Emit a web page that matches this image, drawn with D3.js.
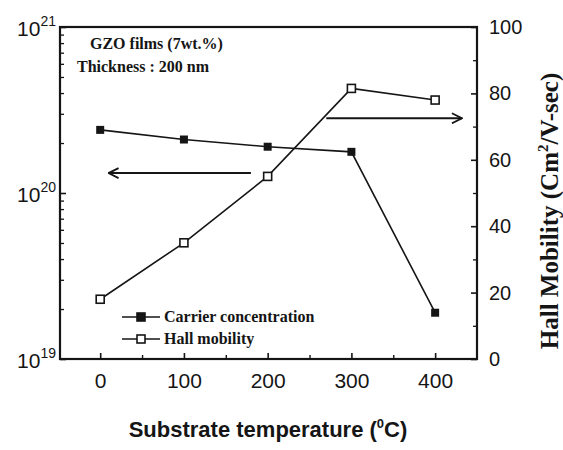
<!DOCTYPE html>
<html>
<head>
<meta charset="utf-8">
<script src="https://cdn.jsdelivr.net/npm/d3@7"></script>
<style>
  body { margin: 0; background: #fff; }
  svg { display: block; }
  .tick text { font-family: "Liberation Sans", Arial, sans-serif; }
</style>
</head>
<body>
<div id="chart"></div>
<script>
// data
const temps = [0, 100, 200, 300, 400];
const carrier = [2.4e20, 2.1e20, 1.9e20, 1.77e20, 1.9e19];
const mobility = [18, 35, 55, 81.5, 78];
const xTicks = [0, 100, 200, 300, 400];
const xMinor = [50, 150, 250, 350];
const leftTicks = [1e19, 1e20, 1e21];
const leftExp = ['19', '20', '21'];
const rightTicks = [0, 20, 40, 60, 80, 100];
const rightMinor = [10, 30, 50, 70, 90];

const W = 563, H = 450;
const margin = { top: 27, right: 86, bottom: 91, left: 60 };
const ink = '#151515';

const svg = d3.select('#chart').append('svg').attr('width', W).attr('height', H);

const x = d3.scaleLinear().domain([-48, 450]).range([margin.left, W - margin.right]);
const yL = d3.scaleLog().domain([1e19, 1e21]).range([H - margin.bottom, margin.top]);
const yR = d3.scaleLinear().domain([0, 100]).range([H - margin.bottom, margin.top]);

const x0 = margin.left, x1 = W - margin.right, y0 = H - margin.bottom, y1 = margin.top;

// frame
svg.append('rect')
  .attr('x', x0).attr('y', y1).attr('width', x1 - x0).attr('height', y0 - y1)
  .attr('fill', 'none').attr('stroke', ink).attr('stroke-width', 2.2);

// bottom axis
const gx = svg.append('g').attr('transform', `translate(0,${y0})`)
  .call(d3.axisBottom(x).tickValues(xTicks).tickSize(-6).tickPadding(14).tickFormat(d3.format('d')));
gx.select('.domain').remove();
gx.selectAll('.tick line').attr('stroke', ink).attr('stroke-width', 1.6);
gx.selectAll('.tick text').attr('font-size', 21).attr('fill', ink);
svg.append('g').attr('transform', `translate(0,${y0})`)
  .call(d3.axisBottom(x).tickValues(xMinor).tickSize(-4).tickFormat(''))
  .call(g => g.select('.domain').remove())
  .selectAll('.tick line').attr('stroke', ink).attr('stroke-width', 1.4);

// left log axis
const minorLog = yL.ticks().filter(v => leftTicks.indexOf(v) < 0);
const gl = svg.append('g').attr('transform', `translate(${x0},0)`)
  .call(d3.axisLeft(yL).tickValues(leftTicks).tickSize(-6).tickFormat(''));
gl.select('.domain').remove();
gl.selectAll('.tick line').attr('stroke', ink).attr('stroke-width', 1.6);
svg.append('g').attr('transform', `translate(${x0},0)`)
  .call(d3.axisLeft(yL).tickValues(minorLog).tickSize(-4).tickFormat(''))
  .call(g => g.select('.domain').remove())
  .selectAll('.tick line').attr('stroke', ink).attr('stroke-width', 1.3);

// left labels 10^n
const ll = svg.append('g');
leftTicks.forEach((v, i) => {
  const t = ll.append('text')
    .attr('x', x0 - 4).attr('y', yL(v) + 9)
    .attr('text-anchor', 'end')
    .attr('font-family', '"Liberation Sans", Arial, sans-serif')
    .attr('fill', ink);
  t.append('tspan').attr('font-size', 21).text('10');
  t.append('tspan').attr('font-size', 14).attr('dy', -10).text(leftExp[i]);
});

// right axis
const gr = svg.append('g').attr('transform', `translate(${x1},0)`)
  .call(d3.axisRight(yR).tickValues(rightTicks).tickSize(-6).tickPadding(12));
gr.select('.domain').remove();
gr.selectAll('.tick line').attr('stroke', ink).attr('stroke-width', 1.6);
gr.selectAll('.tick text').attr('font-size', 20).attr('fill', ink);
svg.append('g').attr('transform', `translate(${x1},0)`)
  .call(d3.axisRight(yR).tickValues(rightMinor).tickSize(-4).tickFormat(''))
  .call(g => g.select('.domain').remove())
  .selectAll('.tick line').attr('stroke', ink).attr('stroke-width', 1.3);

// series
const lineC = d3.line().x((d, i) => x(temps[i])).y(d => yL(d));
const lineM = d3.line().x((d, i) => x(temps[i])).y(d => yR(d));

svg.append('path').datum(carrier).attr('d', lineC)
  .attr('fill', 'none').attr('stroke', ink).attr('stroke-width', 1.6);
svg.append('path').datum(mobility).attr('d', lineM)
  .attr('fill', 'none').attr('stroke', ink).attr('stroke-width', 1.6);

const ms = 8;
svg.selectAll('.mc').data(carrier).enter().append('rect')
  .attr('x', (d, i) => x(temps[i]) - ms / 2).attr('y', d => yL(d) - ms / 2)
  .attr('width', ms).attr('height', ms).attr('fill', ink);
svg.selectAll('.mm').data(mobility).enter().append('rect')
  .attr('x', (d, i) => x(temps[i]) - ms / 2).attr('y', d => yR(d) - ms / 2)
  .attr('width', ms).attr('height', ms).attr('fill', '#fff')
  .attr('stroke', ink).attr('stroke-width', 1.6);

// arrows pointing to the axes
const defs = svg.append('defs');
defs.append('marker').attr('id', 'ah').attr('viewBox', '0 0 12 12')
  .attr('refX', 11).attr('refY', 6).attr('markerWidth', 12).attr('markerHeight', 12)
  .attr('markerUnits', 'userSpaceOnUse').attr('orient', 'auto')
  .append('path').attr('d', 'M1,1 L11,6 L1,11').attr('fill', 'none')
  .attr('stroke', ink).attr('stroke-width', 1.8);
svg.append('line')
  .attr('x1', x(180)).attr('y1', yR(56)).attr('x2', x(10)).attr('y2', yR(56))
  .attr('stroke', ink).attr('stroke-width', 2).attr('marker-end', 'url(#ah)');
svg.append('line')
  .attr('x1', x(270)).attr('y1', yR(72.5)).attr('x2', x(432)).attr('y2', yR(72.5))
  .attr('stroke', ink).attr('stroke-width', 2).attr('marker-end', 'url(#ah)');

// annotation
const serif = '"Liberation Serif", "Times New Roman", serif';
svg.append('text').attr('x', 90).attr('y', 49)
  .attr('font-family', serif).attr('font-weight', 'bold').attr('font-size', 16)
  .attr('fill', ink).text('GZO films (7wt.%)');
svg.append('text').attr('x', 77).attr('y', 72)
  .attr('font-family', serif).attr('font-weight', 'bold').attr('font-size', 16)
  .attr('fill', ink).text('Thickness : 200 nm');

// legend
const legend = [
  { label: 'Carrier concentration', fill: ink, y: 317 },
  { label: 'Hall mobility', fill: '#fff', y: 339 }
];
const lg = svg.append('g');
legend.forEach(l => {
  lg.append('line').attr('x1', 122).attr('x2', 160).attr('y1', l.y).attr('y2', l.y)
    .attr('stroke', ink).attr('stroke-width', 1.6);
  lg.append('rect').attr('x', 141 - ms / 2).attr('y', l.y - ms / 2)
    .attr('width', ms).attr('height', ms).attr('fill', l.fill)
    .attr('stroke', ink).attr('stroke-width', 1.6);
  lg.append('text').attr('x', 164).attr('y', l.y + 5)
    .attr('font-family', serif).attr('font-weight', 'bold').attr('font-size', 16)
    .attr('fill', ink).text(l.label);
});

// axis titles
const xt = svg.append('text').attr('x', 268).attr('y', 437).attr('text-anchor', 'middle')
  .attr('font-family', '"Liberation Sans", Arial, sans-serif').attr('font-weight', 'bold')
  .attr('font-size', 22).attr('fill', ink);
xt.append('tspan').text('Substrate temperature (');
xt.append('tspan').attr('font-size', 13).attr('dy', -9).text('0');
xt.append('tspan').attr('dy', 9).text('C)');

const yt = svg.append('text').attr('transform', 'translate(558,211) rotate(-90)')
  .attr('text-anchor', 'middle')
  .attr('font-family', serif).attr('font-weight', 'bold')
  .attr('font-size', 25).attr('fill', ink);
yt.append('tspan').text('Hall Mobility (Cm');
yt.append('tspan').attr('font-size', 15).attr('dy', -10).text('2');
yt.append('tspan').attr('dy', 10).text('/V-sec)');
</script>
</body>
</html>
